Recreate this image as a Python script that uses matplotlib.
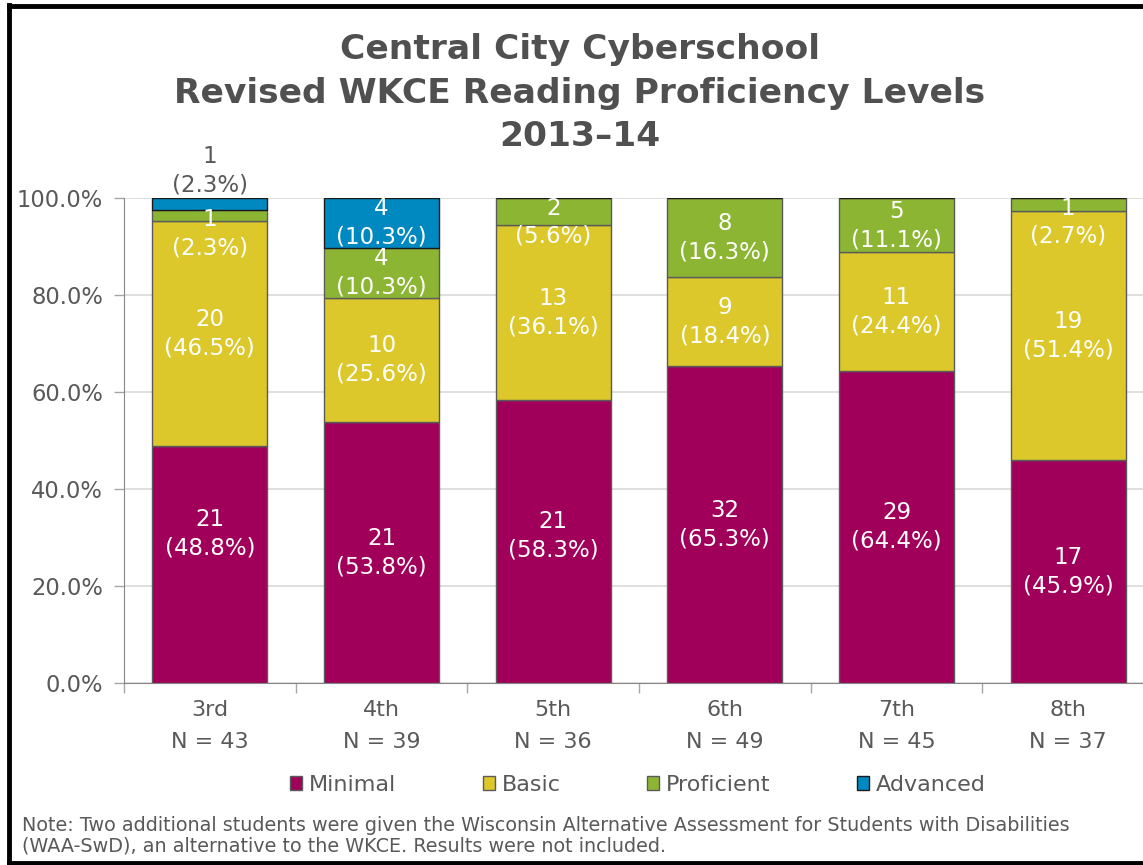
import matplotlib
matplotlib.use('Agg')
import matplotlib.pyplot as plt
from matplotlib.lines import Line2D
from matplotlib.patches import Patch
import numpy as np

plt.rcParams['font.family'] = ['DejaVu Sans']

grades = ['3rd', '4th', '5th', '6th', '7th', '8th']
n_students = [43, 39, 36, 49, 45, 37]
levels = ['Minimal', 'Basic', 'Proficient', 'Advanced']
counts = {
    'Minimal':    [21, 21, 21, 32, 29, 17],
    'Basic':      [20, 10, 13, 9, 11, 19],
    'Proficient': [1, 4, 2, 8, 5, 1],
    'Advanced':   [1, 4, 0, 0, 0, 0],
}
pcts = {
    'Minimal':    [48.8, 53.8, 58.3, 65.3, 64.4, 45.9],
    'Basic':      [46.5, 25.6, 36.1, 18.4, 24.4, 51.4],
    'Proficient': [2.3, 10.3, 5.6, 16.3, 11.1, 2.7],
    'Advanced':   [2.3, 10.3, 0, 0, 0, 0],
}
title_lines = ['Central City Cyberschool',
               'Revised WKCE Reading Proficiency Levels',
               '2013\u201314']
colors = {'Minimal': '#A0005A', 'Basic': '#DCC82A',
          'Proficient': '#8DB534', 'Advanced': '#0088C0'}
edges = {'Minimal': '#5a5a5a', 'Basic': '#5a5a5a',
         'Proficient': '#5a5a5a', 'Advanced': '#1a1a1a'}
# labels that were nudged by hand in the original (points, upwards)
nudge = {('Minimal', 0): 22, ('Minimal', 2): 4}

gray = '#595959'
fig = plt.figure(figsize=(11.43, 8.65), dpi=100)
ax = fig.add_axes([124 / 1143, 1 - 683 / 865, 1030 / 1143, 485 / 865])

x = np.arange(len(grades))
bottom = np.zeros(len(grades))
for lev in levels:
    vals = np.array(pcts[lev], dtype=float)
    ax.bar(x, vals, 0.67, bottom=bottom, color=colors[lev],
           edgecolor=edges[lev], linewidth=1.0, zorder=3)
    for i in range(len(grades)):
        if counts[lev][i] == 0:
            continue
        top = bottom[i] + vals[i]
        lab = '%d\n(%.1f%%)' % (counts[lev][i], vals[i])
        if lev == 'Advanced' and vals[i] < 4:
            ax.text(x[i], 100.4, lab, ha='center', va='bottom', color=gray,
                    fontsize=16.5, linespacing=1.3, clip_on=False, zorder=4)
        else:
            yc = min(bottom[i] + vals[i] / 2, top - 5.0)
            ax.annotate(lab, (x[i], yc), xytext=(0, nudge.get((lev, i), 0)),
                        textcoords='offset points', ha='center', va='center',
                        color='white', fontsize=16.5, linespacing=1.3, zorder=4)
    bottom += vals

ax.set_xlim(-0.5, 5.5)
ax.set_ylim(0, 100)
ax.set_yticks(np.arange(0, 101, 20))
ax.set_yticklabels(['%.1f%%' % v for v in np.arange(0, 101, 20)])
ax.yaxis.grid(True, color='#d9d9d9', linewidth=1.2, zorder=0)
ax.set_axisbelow(True)

ax.set_xticks(x)
ax.set_xticklabels(['%s\nN = %d' % (g, n) for g, n in zip(grades, n_students)])
for t in ax.get_xticklabels():
    t.set_linespacing(1.8)
ax.set_xticks(np.arange(-0.5, 6.0, 1.0), minor=True)
ax.tick_params(axis='x', which='major', length=0, pad=12, labelsize=16, labelcolor=gray)
ax.tick_params(axis='x', which='minor', length=7, color='#a6a6a6', width=1)
ax.tick_params(axis='y', length=7, color='#a6a6a6', width=1, pad=8,
               labelsize=16.3, labelcolor=gray)

for s in ['top', 'right']:
    ax.spines[s].set_visible(False)
ax.spines['left'].set_color('#868686')
ax.spines['bottom'].set_color('#868686')

for k, line in enumerate(title_lines):
    fig.text(0.507, 1 - (50 + 43 * k) / 865, line, ha='center', va='center',
             fontsize=24.8, fontweight='bold', color='#505050')

handles = [Patch(facecolor=colors[l], edgecolor=edges[l], linewidth=1.0) for l in levels]
fig.legend(handles, levels, loc='center', bbox_to_anchor=(0.558, 1 - 785 / 865),
           ncol=4, frameon=False, fontsize=16, handlelength=0.55, handleheight=0.55,
           handletextpad=0.3, columnspacing=3.9, labelcolor=gray)

fig.text(22 / 1143, 1 - 836 / 865,
         'Note: Two additional students were given the Wisconsin Alternative Assessment for Students with Disabilities\n'
         '(WAA-SwD), an alternative to the WKCE. Results were not included.',
         ha='left', va='center', fontsize=13.8, color=gray, linespacing=1.08)

# black frame round the chart
lw = 3.5
fig.add_artist(Line2D([8.5 / 1143, 8.5 / 1143], [0, 1 - 5 / 865], color='black', lw=lw))
fig.add_artist(Line2D([8.5 / 1143, 1], [1 - 6 / 865, 1 - 6 / 865], color='black', lw=lw))
fig.add_artist(Line2D([8.5 / 1143, 1], [2.5 / 865, 2.5 / 865], color='black', lw=lw))

fig.savefig('out.png', dpi=100)
